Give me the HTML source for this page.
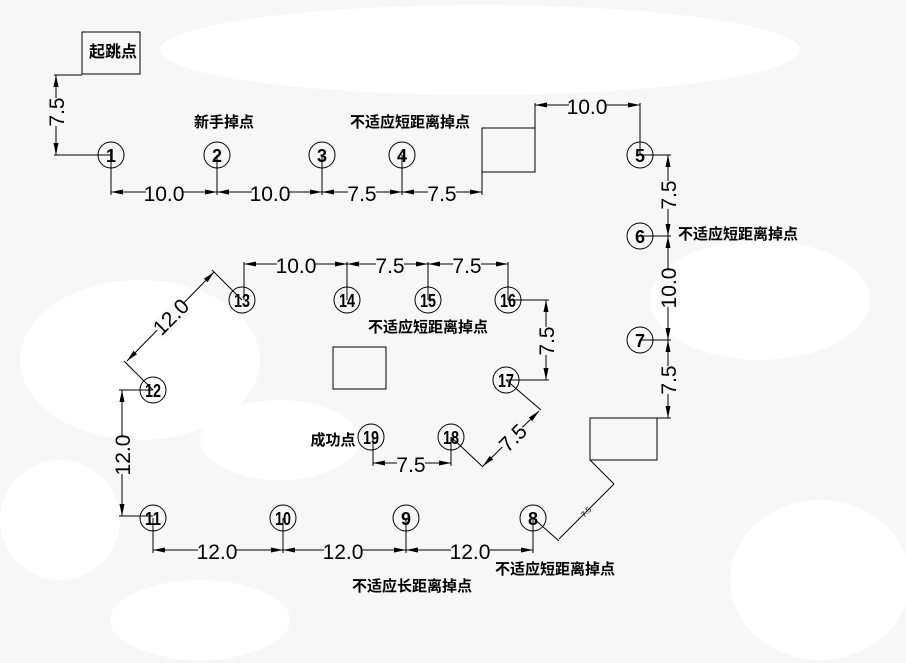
<!DOCTYPE html>
<html><head><meta charset="utf-8"><style>
html,body{margin:0;padding:0;width:906px;height:663px;overflow:hidden;background:#f7f7f7}
svg{display:block}
.c{fill:none;stroke:#000;stroke-width:1}
.n{font-family:"Liberation Sans Narrow","Liberation Sans",sans-serif;font-weight:bold;font-size:18px;text-anchor:middle}
.d{font-family:"Liberation Sans Narrow","Liberation Sans",sans-serif;font-size:21px;text-anchor:middle}
.t{font-family:"Liberation Sans","Noto Sans CJK SC",sans-serif;font-weight:bold;font-size:15px;text-anchor:middle}
</style></head><body>
<svg width="906" height="663" viewBox="0 0 906 663" xmlns="http://www.w3.org/2000/svg">
<defs>
<marker id="a" viewBox="0 0 12 6" refX="0" refY="3" markerWidth="12" markerHeight="6" orient="auto" markerUnits="userSpaceOnUse"><path d="M0,3 L12,0.5 L12,5.5 Z" fill="#000"/></marker>
<marker id="b" viewBox="0 0 12 6" refX="12" refY="3" markerWidth="12" markerHeight="6" orient="auto" markerUnits="userSpaceOnUse"><path d="M12,3 L0,0.5 L0,5.5 Z" fill="#000"/></marker>
</defs>
<g fill="#fff">
<ellipse cx="480" cy="50" rx="320" ry="45"/>
<ellipse cx="140" cy="360" rx="120" ry="80"/>
<ellipse cx="280" cy="440" rx="80" ry="40"/>
<ellipse cx="820" cy="580" rx="90" ry="80"/>
<ellipse cx="60" cy="520" rx="60" ry="60"/>
<ellipse cx="200" cy="620" rx="90" ry="40"/>
<ellipse cx="760" cy="300" rx="110" ry="60"/>
</g>
<g stroke="#000" stroke-width="1" fill="none">
<rect x="82" y="32" width="58" height="42"/>
<rect x="482" y="128" width="53" height="44"/>
<rect x="590" y="418" width="67" height="42"/>
<rect x="333" y="347" width="53" height="42"/>
<line x1="54" y1="75" x2="82" y2="75"/>
<line x1="54" y1="155" x2="111" y2="155"/>
<line x1="56" y1="75" x2="56" y2="155" marker-start="url(#a)" marker-end="url(#b)"/>
<line x1="111" y1="155" x2="111" y2="195"/>
<line x1="217" y1="155" x2="217" y2="195"/>
<line x1="322" y1="155" x2="322" y2="195"/>
<line x1="402" y1="155" x2="402" y2="195"/>
<line x1="482" y1="172" x2="482" y2="195"/>
<line x1="111" y1="192" x2="217" y2="192" marker-start="url(#a)" marker-end="url(#b)"/>
<line x1="217" y1="192" x2="322" y2="192" marker-start="url(#a)" marker-end="url(#b)"/>
<line x1="322" y1="192" x2="402" y2="192" marker-start="url(#a)" marker-end="url(#b)"/>
<line x1="402" y1="192" x2="482" y2="192" marker-start="url(#a)" marker-end="url(#b)"/>
<line x1="535" y1="103" x2="535" y2="128"/>
<line x1="640" y1="103" x2="640" y2="155"/>
<line x1="535" y1="105" x2="640" y2="105" marker-start="url(#a)" marker-end="url(#b)"/>
<line x1="640" y1="155" x2="671" y2="155"/>
<line x1="640" y1="236" x2="671" y2="236"/>
<line x1="640" y1="340" x2="671" y2="340"/>
<line x1="657" y1="418" x2="671" y2="418"/>
<line x1="668" y1="155" x2="668" y2="236" marker-start="url(#a)" marker-end="url(#b)"/>
<line x1="668" y1="236" x2="668" y2="340" marker-start="url(#a)" marker-end="url(#b)"/>
<line x1="668" y1="340" x2="668" y2="418" marker-start="url(#a)" marker-end="url(#b)"/>
<line x1="590" y1="460" x2="614" y2="484"/>
<line x1="533" y1="518" x2="559" y2="541"/>
<line x1="614" y1="484" x2="559" y2="539"/>
<line x1="153" y1="518" x2="153" y2="553"/>
<line x1="283" y1="518" x2="283" y2="553"/>
<line x1="406" y1="518" x2="406" y2="553"/>
<line x1="533" y1="518" x2="533" y2="553"/>
<line x1="153" y1="550" x2="283" y2="550" marker-start="url(#a)" marker-end="url(#b)"/>
<line x1="283" y1="550" x2="406" y2="550" marker-start="url(#a)" marker-end="url(#b)"/>
<line x1="406" y1="550" x2="533" y2="550" marker-start="url(#a)" marker-end="url(#b)"/>
<line x1="119" y1="390" x2="153" y2="390"/>
<line x1="119" y1="516" x2="153" y2="516"/>
<line x1="122" y1="390" x2="122" y2="516" marker-start="url(#a)" marker-end="url(#b)"/>
<line x1="153" y1="390" x2="124" y2="361"/>
<line x1="242" y1="300" x2="212" y2="270"/>
<line x1="127" y1="361" x2="214" y2="272" marker-start="url(#a)" marker-end="url(#b)"/>
<line x1="244" y1="262" x2="244" y2="300"/>
<line x1="347" y1="262" x2="347" y2="300"/>
<line x1="428" y1="262" x2="428" y2="300"/>
<line x1="508" y1="262" x2="508" y2="300"/>
<line x1="244" y1="264" x2="347" y2="264" marker-start="url(#a)" marker-end="url(#b)"/>
<line x1="347" y1="264" x2="428" y2="264" marker-start="url(#a)" marker-end="url(#b)"/>
<line x1="428" y1="264" x2="508" y2="264" marker-start="url(#a)" marker-end="url(#b)"/>
<line x1="508" y1="300" x2="549" y2="300"/>
<line x1="506" y1="380" x2="549" y2="380"/>
<line x1="546" y1="300" x2="546" y2="380" marker-start="url(#a)" marker-end="url(#b)"/>
<line x1="506" y1="380" x2="541" y2="410"/>
<line x1="451" y1="437" x2="483" y2="467"/>
<line x1="539" y1="411" x2="483" y2="466" marker-start="url(#a)" marker-end="url(#b)"/>
<line x1="373" y1="437" x2="373" y2="466"/>
<line x1="451" y1="437" x2="451" y2="466"/>
<line x1="373" y1="463" x2="451" y2="463" marker-start="url(#a)" marker-end="url(#b)"/>
</g>
<g class="d">
<rect x="146" y="182" width="36" height="20" fill="#f7f7f7"/><text x="164" y="201">10.0</text>
<rect x="252" y="182" width="36" height="20" fill="#f7f7f7"/><text x="270" y="201">10.0</text>
<rect x="348" y="182" width="28" height="20" fill="#f7f7f7"/><text x="362" y="201">7.5</text>
<rect x="428" y="182" width="28" height="20" fill="#f7f7f7"/><text x="442" y="201">7.5</text>
<rect x="569" y="95" width="36" height="20" fill="#f7f7f7"/><text x="587" y="114">10.0</text>
<rect x="277" y="254" width="38" height="20" fill="#f7f7f7"/><text x="296" y="273">10.0</text>
<rect x="376" y="254" width="28" height="20" fill="#f7f7f7"/><text x="390" y="273">7.5</text>
<rect x="453" y="254" width="28" height="20" fill="#f7f7f7"/><text x="467" y="273">7.5</text>
<rect x="397" y="453" width="28" height="20" fill="#f7f7f7"/><text x="411" y="472">7.5</text>
<rect x="198" y="540" width="38" height="20" fill="#f7f7f7"/><text x="217" y="559">12.0</text>
<rect x="324" y="540" width="38" height="20" fill="#f7f7f7"/><text x="343" y="559">12.0</text>
<rect x="451" y="540" width="38" height="20" fill="#f7f7f7"/><text x="470" y="559">12.0</text>
<g transform="translate(64,112) rotate(-90)"><rect x="-14" y="-16" width="28" height="20" fill="#f7f7f7"/><text x="0" y="0">7.5</text></g>
<g transform="translate(676,195) rotate(-90)"><rect x="-14" y="-16" width="28" height="20" fill="#f7f7f7"/><text x="0" y="0">7.5</text></g>
<g transform="translate(676,288) rotate(-90)"><rect x="-19" y="-16" width="38" height="20" fill="#f7f7f7"/><text x="0" y="0">10.0</text></g>
<g transform="translate(676,380) rotate(-90)"><rect x="-14" y="-16" width="28" height="20" fill="#f7f7f7"/><text x="0" y="0">7.5</text></g>
<g transform="translate(554,341) rotate(-90)"><rect x="-14" y="-16" width="28" height="20" fill="#f7f7f7"/><text x="0" y="0">7.5</text></g>
<g transform="translate(130,455) rotate(-90)"><rect x="-19" y="-16" width="38" height="20" fill="#f7f7f7"/><text x="0" y="0">12.0</text></g>
<g transform="translate(176,322) rotate(-45)"><rect x="-19" y="-16" width="38" height="20" fill="#f7f7f7"/><text x="0" y="0">12.0</text></g>
<g transform="translate(518,443) rotate(-45)"><rect x="-14" y="-16" width="28" height="20" fill="#f7f7f7"/><text x="0" y="0">7.5</text></g>
<g transform="translate(588,514) rotate(-45)"><text x="0" y="0" style="font-size:8px">7.5</text></g>
</g>
<g class="c">
<circle cx="111" cy="155" r="13"/><circle cx="217" cy="155" r="13"/><circle cx="322" cy="155" r="13"/><circle cx="402" cy="155" r="13"/>
<circle cx="640" cy="155" r="13"/><circle cx="640" cy="236" r="13"/><circle cx="640" cy="340" r="13"/>
<circle cx="533" cy="518" r="13"/><circle cx="406" cy="518" r="13"/><circle cx="283" cy="518" r="13"/><circle cx="153" cy="518" r="13"/>
<circle cx="153" cy="390" r="13"/><circle cx="242" cy="300" r="13"/><circle cx="347" cy="300" r="13"/><circle cx="428" cy="300" r="13"/><circle cx="508" cy="300" r="13"/>
<circle cx="506" cy="380" r="13"/><circle cx="451" cy="437" r="13"/><circle cx="371" cy="437" r="13"/>
</g>
<g class="n">
<text x="111" y="162">1</text><text x="217" y="162">2</text><text x="322" y="162">3</text><text x="402" y="162">4</text>
<text x="640" y="162">5</text><text x="640" y="243">6</text><text x="640" y="347">7</text>
<text x="533" y="525">8</text><text x="406" y="525">9</text><text x="283" y="525" textLength="16" lengthAdjust="spacingAndGlyphs">10</text><text x="153" y="525" textLength="16" lengthAdjust="spacingAndGlyphs">11</text>
<text x="153" y="397" textLength="16" lengthAdjust="spacingAndGlyphs">12</text><text x="242" y="307" textLength="16" lengthAdjust="spacingAndGlyphs">13</text><text x="347" y="307" textLength="16" lengthAdjust="spacingAndGlyphs">14</text><text x="428" y="307" textLength="16" lengthAdjust="spacingAndGlyphs">15</text><text x="508" y="307" textLength="16" lengthAdjust="spacingAndGlyphs">16</text>
<text x="506" y="387" textLength="16" lengthAdjust="spacingAndGlyphs">17</text><text x="451" y="444" textLength="16" lengthAdjust="spacingAndGlyphs">18</text><text x="371" y="444" textLength="16" lengthAdjust="spacingAndGlyphs">19</text>
</g>
<g class="t">
<text x="113" y="57" style="font-size:16px">起跳点</text>
<text x="224" y="127">新手掉点</text>
<text x="410" y="127">不适应短距离掉点</text>
<text x="738" y="239">不适应短距离掉点</text>
<text x="428" y="332">不适应短距离掉点</text>
<text x="333" y="445">成功点</text>
<text x="412" y="591">不适应长距离掉点</text>
<text x="555" y="574">不适应短距离掉点</text>
</g>
</svg>
</body></html>
